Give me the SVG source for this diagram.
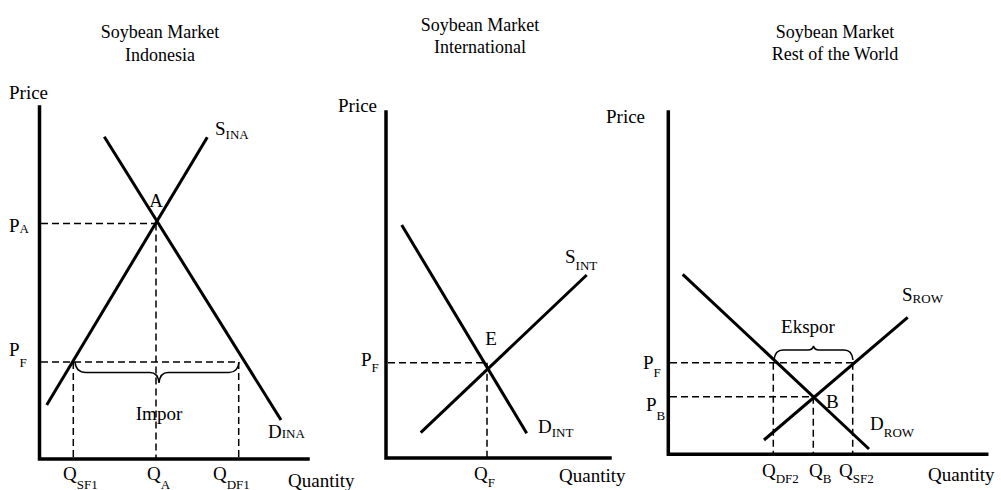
<svg xmlns="http://www.w3.org/2000/svg" width="1001" height="490" viewBox="0 0 1001 490">
<style>
text{font-family:"Liberation Serif","Times New Roman",serif;fill:#000;}
.t{font-size:18px;}
.l{font-size:19px;}
.s{font-size:13px;}
.axis{stroke:#000;stroke-width:3.5;fill:none;stroke-linecap:square;}
.curve{stroke:#000;stroke-width:3;fill:none;}
.dash{stroke:#000;stroke-width:1.5;fill:none;stroke-dasharray:7,4;}
.brace{stroke:#000;stroke-width:1.5;fill:none;}
</style>
<rect width="1001" height="490" fill="#fff"/>

<!-- Panel 1: Indonesia -->
<g id="panel-indonesia">
  <g id="title-ina">
    <text class="t" x="160" y="38" text-anchor="middle">Soybean Market</text>
    <text class="t" x="160" y="61" text-anchor="middle">Indonesia</text>
  </g>
  <g id="axes-ina">
    <path class="axis" d="M39.5,107 V459 H308"/>
    <text class="l" x="9" y="99">Price</text>
    <text class="l" x="288" y="487">Quantity</text>
  </g>
  <g id="supply-ina">
    <line class="curve" x1="46.7" y1="405" x2="207.3" y2="137.3"/>
    <text class="l" x="215" y="135">S<tspan class="s" dy="4">INA</tspan></text>
  </g>
  <g id="demand-ina">
    <line class="curve" x1="104.3" y1="136.7" x2="281" y2="420"/>
    <text class="l" x="268" y="438">D<tspan class="s">INA</tspan></text>
  </g>
  <g id="point-a">
    <text class="l" x="156" y="207" text-anchor="middle">A</text>
  </g>
  <g id="guides-ina">
    <path class="dash" d="M41,223.5 H156 M41,362 H239 M73.3,362 V458 M156,223.5 V458 M238.7,362 V458"/>
    <text class="l" x="9" y="232">P<tspan class="s" dy="1">A</tspan></text>
    <text class="l" x="9" y="356">P<tspan class="s" dy="11">F</tspan></text>
    <text class="l" x="63" y="480">Q<tspan class="s" dy="9">SF1</tspan></text>
    <text class="l" x="147" y="480">Q<tspan class="s" dy="9">A</tspan></text>
    <text class="l" x="213" y="480">Q<tspan class="s" dy="9">DF1</tspan></text>
  </g>
  <g id="impor">
    <path class="brace" d="M75,362 Q76,372.5 86,372.5 L150,372.5 Q158,372.5 159,383 Q160,372.5 168,372.5 L229,372.5 Q238,372.5 239,362"/>
    <text class="l" x="159" y="420" text-anchor="middle">Impor</text>
  </g>
</g>

<!-- Panel 2: International -->
<g id="panel-international">
  <g id="title-int">
    <text class="t" x="480" y="31" text-anchor="middle">Soybean Market</text>
    <text class="t" x="480" y="53" text-anchor="middle">International</text>
  </g>
  <g id="axes-int">
    <path class="axis" d="M386,112 V458 H610"/>
    <text class="l" x="338" y="112">Price</text>
    <text class="l" x="559" y="482">Quantity</text>
  </g>
  <g id="demand-int">
    <line class="curve" x1="401.7" y1="225" x2="526.7" y2="433.3"/>
    <text class="l" x="538" y="433">D<tspan class="s" dy="4">INT</tspan></text>
  </g>
  <g id="supply-int">
    <line class="curve" x1="420.7" y1="432.7" x2="586.7" y2="275"/>
    <text class="l" x="565" y="263">S<tspan class="s" dy="7">INT</tspan></text>
  </g>
  <g id="point-e">
    <text class="l" x="491" y="345" text-anchor="middle">E</text>
  </g>
  <g id="guides-int">
    <path class="dash" d="M388,362.7 H487 M487,362.7 V457"/>
    <text class="l" x="361" y="366">P<tspan class="s" dy="6">F</tspan></text>
    <text class="l" x="474" y="480">Q<tspan class="s" dy="7">F</tspan></text>
  </g>
</g>

<!-- Panel 3: Rest of the World -->
<g id="panel-row">
  <g id="title-row">
    <text class="t" x="835" y="38" text-anchor="middle">Soybean Market</text>
    <text class="t" x="835" y="60" text-anchor="middle">Rest of the World</text>
  </g>
  <g id="axes-row">
    <path class="axis" d="M668.3,112 V454.3 H986.7"/>
    <text class="l" x="606" y="123">Price</text>
    <text class="l" x="928" y="481">Quantity</text>
  </g>
  <g id="demand-row">
    <line class="curve" x1="682.7" y1="274.3" x2="869" y2="449"/>
    <text class="l" x="870" y="430">D<tspan class="s" dy="7">ROW</tspan></text>
  </g>
  <g id="supply-row">
    <line class="curve" x1="764" y1="440" x2="907.7" y2="317.3"/>
    <text class="l" x="902" y="301">S<tspan class="s" dy="2">ROW</tspan></text>
  </g>
  <g id="point-b">
    <text class="l" x="826" y="408">B</text>
  </g>
  <g id="guides-row">
    <path class="dash" d="M670,362.7 H853 M670,396.7 H813.3 M773.3,362.7 V453 M813.3,396.7 V453 M852.7,362.7 V453"/>
    <text class="l" x="643" y="369">P<tspan class="s" dy="8">F</tspan></text>
    <text class="l" x="646" y="411">P<tspan class="s" dy="9">B</tspan></text>
    <text class="l" x="762" y="477">Q<tspan class="s" dy="6">DF2</tspan></text>
    <text class="l" x="809" y="477">Q<tspan class="s" dy="6">B</tspan></text>
    <text class="l" x="839" y="477">Q<tspan class="s" dy="6">SF2</tspan></text>
  </g>
  <g id="ekspor">
    <path class="brace" d="M774,360 Q775,350 783,350 L808,350 Q812.5,350 813.5,346 Q814.5,350 819,350 L844,350 Q852,350 853,360"/>
    <text class="l" x="808" y="333" text-anchor="middle">Ekspor</text>
  </g>
</g>
</svg>
